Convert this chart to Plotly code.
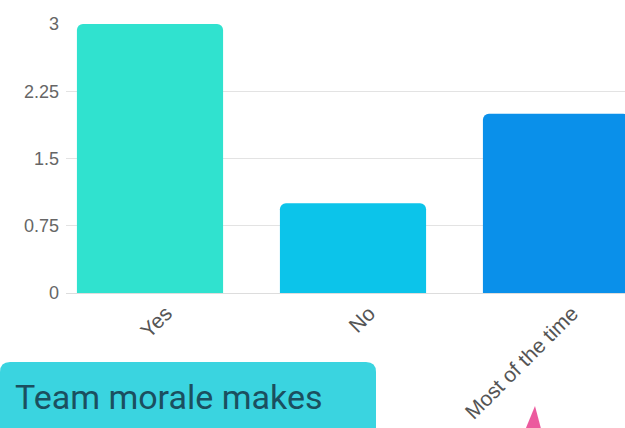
import plotly.graph_objects as go

# Survey answers and counts
categories = ["Yes", "No", "Most of the time"]
counts = [3, 1, 2]
bar_colors = ["#30E2CF", "#0CC4EA", "#0A90EA"]

y_ticks = [0, 0.75, 1.5, 2.25, 3]
y_tick_labels = ["0", "0.75", "1.5", "2.25", "3"]

callout_text = "Team morale makes"

W, H = 625, 428
L, R, T, B = 66, 0, 24, 135
plot_w = W - L - R
plot_h = H - T - B


def px_x(p):
    return (p - L) / plot_w


def px_y(p):
    return (H - B - p) / plot_h


fig = go.Figure(
    go.Bar(
        x=categories,
        y=counts,
        marker=dict(color=bar_colors, cornerradius=6, line=dict(width=0)),
        width=0.72,
        hoverinfo="skip",
    )
)

# rounded callout box below the chart
bx0, bx1, by0, by1, r = 0, 376, 362, 470, 10
path = (
    f"M {px_x(bx0)},{px_y(by0 + r)} "
    f"Q {px_x(bx0)},{px_y(by0)} {px_x(bx0 + r)},{px_y(by0)} "
    f"L {px_x(bx1 - r)},{px_y(by0)} "
    f"Q {px_x(bx1)},{px_y(by0)} {px_x(bx1)},{px_y(by0 + r)} "
    f"L {px_x(bx1)},{px_y(by1)} L {px_x(bx0)},{px_y(by1)} Z"
)
shapes = [
    dict(type="path", xref="paper", yref="paper", path=path,
         fillcolor="#3AD4E0", line=dict(width=0), layer="above"),
    # pink pointer
    dict(type="path", xref="paper", yref="paper",
         path=(f"M {px_x(521)},{px_y(440)} L {px_x(535)},{px_y(406)} "
               f"L {px_x(544)},{px_y(440)} Z"),
         fillcolor="#EC5A9E", line=dict(width=0), layer="above"),
]

fig.update_layout(
    width=W,
    height=H,
    margin=dict(l=L, r=R, t=T, b=B, pad=0, autoexpand=False),
    paper_bgcolor="white",
    plot_bgcolor="white",
    showlegend=False,
    shapes=shapes,
    font=dict(family="Liberation Sans, Arial, sans-serif", color="#666666"),
    xaxis=dict(
        range=[-0.5 + (L - 48.5) / 203, -0.5 + (W - 48.5) / 203],
        tickangle=-45,
        tickfont=dict(size=21, color="#555555"),
        showgrid=False,
        showline=False,
        zeroline=False,
        ticks="",
        ticklabelstandoff=3,
        ticklabelshift=16,
        automargin=False,
    ),
    yaxis=dict(
        range=[0, 3],
        tickvals=y_ticks,
        ticktext=y_tick_labels,
        tickfont=dict(size=18, color="#666666"),
        showgrid=True,
        gridcolor="#E3E3E3",
        gridwidth=1,
        zeroline=True,
        zerolinecolor="#DDDDDD",
        zerolinewidth=1,
        ticks="",
        ticklabelstandoff=6,
        automargin=False,
    ),
    annotations=[
        dict(
            text=callout_text,
            xref="paper", yref="paper",
            x=px_x(13), y=px_y(397),
            xanchor="left", yanchor="middle",
            showarrow=False,
            font=dict(family="Roboto, sans-serif", size=34, color="#1B4F5F"),
        )
    ],
)

fig.write_html("out.html")
